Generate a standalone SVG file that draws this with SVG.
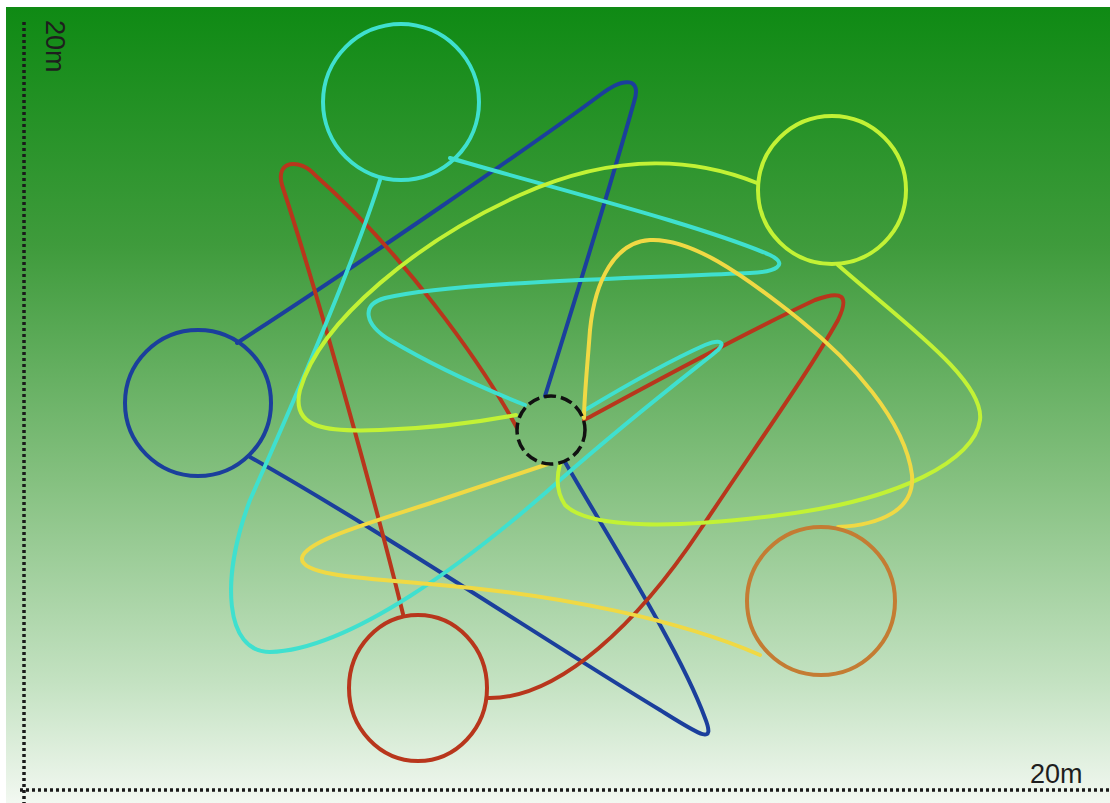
<svg xmlns="http://www.w3.org/2000/svg" xmlns:xlink="http://www.w3.org/1999/xlink" width="1110" height="803" viewBox="0 0 1110 803">
  <defs>
    <linearGradient id="bg" x1="0" y1="0" x2="0" y2="1">
      <stop offset="0" stop-color="#0f8a14"/>
      <stop offset="0.3" stop-color="#3f9b3c"/>
      <stop offset="0.6" stop-color="#86c181"/>
      <stop offset="0.85" stop-color="#c4e2c2"/>
      <stop offset="1" stop-color="#f2f8f1"/>
    </linearGradient>
  </defs>
  <style>
    .ring { fill: none; stroke-width: 4; }
    .path { fill: none; stroke-width: 4; stroke-linecap: round; stroke-linejoin: round; }
    .blue { stroke: #1b3f9c; }
    .cyan { stroke: #3fe0cf; }
    .red { stroke: #b8361c; }
    .lime { stroke: #c2f235; }
    .gold { stroke: #f0d944; }
    .orange { stroke: #c47c33; }
    .dots { stroke: #1a1a1a; stroke-width: 3.5; stroke-dasharray: 3 3; fill: none; }
    .lbl { font-family: "Liberation Sans", Arial, sans-serif; font-size: 27px; fill: #1e1e1e; }
  </style>
  <rect x="0" y="0" width="1110" height="803" fill="#ffffff"/>
  <rect x="6" y="7" width="1104" height="796" fill="url(#bg)"/>

  <g id="axes">
    <line class="dots" x1="24" y1="22" x2="24" y2="803"/>
    <line class="dots" x1="20" y1="790" x2="1110" y2="790"/>
    <text class="lbl" transform="translate(46,20) rotate(90)">20m</text>
    <text class="lbl" x="1030" y="783">20m</text>
  </g>

  <g id="connectors">
    <path class="path blue" d="M237,343 C350,270 540,140 600,95 C625,76 642,78 634,102 C615,170 575,300 545,396"/>
    <path class="path blue" d="M250,457 C380,530 560,650 660,710 C700,735 716,746 705,718 C680,650 610,540 565,462"/>
    <path class="path red" d="M403,614 C380,520 320,300 282,185 C275,160 300,158 315,175 C400,250 480,360 517,428"/>
    <path class="path red" d="M487,698 C560,700 640,620 700,530 C760,440 810,370 838,320 C850,295 842,290 815,300 C730,340 640,390 584,420"/>
    <path class="path cyan" d="M450,158 C560,190 700,225 770,255 C790,265 775,272 750,273 C640,278 450,282 385,298 C360,305 365,325 390,340 C440,370 500,395 525,405"/>
    <path class="path cyan" d="M380,180 C355,260 290,410 250,500 C220,580 225,652 270,652 C350,650 470,560 560,480 C640,410 700,365 718,350 C726,342 720,339 705,345 C660,365 610,395 585,410"/>
    <path class="path lime" d="M757,183 C700,160 620,150 520,195 C420,240 320,320 300,390 C290,430 330,432 380,430 C440,428 490,420 516,415"/>
    <path class="path lime" d="M838,265 C900,320 985,380 980,420 C975,460 900,500 780,515 C680,528 590,530 565,505 C555,490 557,475 560,464"/>
    <path class="path gold" d="M838,527 C880,525 915,510 912,475 C905,420 850,360 800,320 C740,272 690,238 650,240 C615,242 595,280 590,330 C587,370 584,400 584,418"/>
    <path class="path gold" stroke-width="5.5" d="M760,655 C680,620 560,595 440,585 C360,578 300,575 302,558 C305,540 380,520 440,500 C490,483 530,470 548,464"/>
  </g>

  <g id="node-cyan"><circle class="ring cyan" cx="401" cy="102" r="78"/></g>
  <g id="node-lime"><circle class="ring lime" cx="832" cy="190" r="74"/></g>
  <g id="node-blue"><circle class="ring blue" cx="198" cy="403" r="73"/></g>
  <g id="node-orange"><circle class="ring orange" cx="821" cy="601" r="74"/></g>
  <g id="node-red"><ellipse class="ring red" cx="418" cy="688" rx="69" ry="73"/></g>
  <g id="node-center"><circle cx="551" cy="430" r="34" fill="none" stroke="#111" stroke-width="3.5" stroke-dasharray="12 5"/></g>
</svg>
